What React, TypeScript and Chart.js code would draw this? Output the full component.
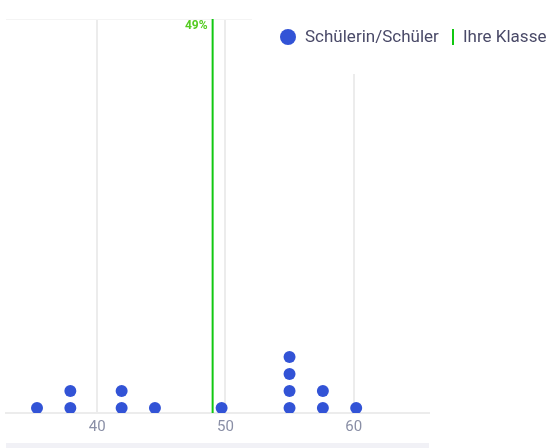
import React, { useEffect, useRef } from "react";
import { Chart, registerables } from "chart.js";

Chart.register(...registerables);

// Data
const studentScores = [35.3, 37.9, 37.9, 41.9, 41.9, 44.5, 49.7, 55.0, 55.0, 55.0, 55.0, 57.6, 57.6, 60.2];
const stackLevels = [1, 1, 2, 1, 2, 1, 1, 1, 2, 3, 4, 1, 2, 1];
const classAverage = 49;
const xTicks = [40, 50, 60];
const studentLabel = "Schülerin/Schüler";
const classLabel = "Ihre Klasse";

const X_MIN = 32.88;
const X_MAX = 65.88;
const Y_MIN = 0.7;
const Y_MAX = 23.9;

const BLUE = "#3253d6";
const GREEN = "#11c811";
const LABEL_GREEN = "#55cc22";
const TEXT = "#4a4a68";
const FONT = "Roboto, 'Noto Sans', sans-serif";

const overlayPlugin = {
  id: "overlay",
  afterDraw(chart: any) {
    const ctx = chart.ctx;
    const area = chart.chartArea;
    const xs = chart.scales.x;
    ctx.save();
    // bottom bar
    ctx.fillStyle = "#f1f1f6";
    ctx.fillRect(area.left, 443, area.right - area.left, 5);
    // average label
    const ax = xs.getPixelForValue(classAverage);
    ctx.fillStyle = LABEL_GREEN;
    ctx.font = `bold 12px ${FONT}`;
    ctx.textAlign = "right";
    ctx.textBaseline = "middle";
    ctx.fillText(`${classAverage}%`, ax - 5, 26);
    // legend box
    ctx.fillStyle = "#ffffff";
    ctx.fillRect(252, 0, chart.width - 252, 74);
    ctx.fillStyle = BLUE;
    ctx.beginPath();
    ctx.arc(288, 37, 8, 0, Math.PI * 2);
    ctx.fill();
    ctx.font = `17px ${FONT}`;
    ctx.fillStyle = TEXT;
    ctx.textAlign = "left";
    ctx.textBaseline = "middle";
    ctx.fillText(studentLabel, 305, 38);
    ctx.fillStyle = GREEN;
    ctx.fillRect(452, 29, 2, 16);
    ctx.fillStyle = TEXT;
    ctx.fillText(classLabel, 463, 38);
    ctx.restore();
  },
};

export default function App() {
  const ref = useRef<HTMLCanvasElement>(null);
  useEffect(() => {
    if (!ref.current) return;
    const chart = new Chart(ref.current, {
      type: "scatter",
      data: {
        datasets: [
          {
            label: studentLabel,
            data: studentScores.map((v, i) => ({ x: v, y: stackLevels[i] })),
            backgroundColor: BLUE,
            borderColor: BLUE,
            pointRadius: 6,
            pointHoverRadius: 6,
            borderWidth: 0,
          },
          {
            label: classLabel,
            data: [
              { x: classAverage, y: Y_MIN },
              { x: classAverage, y: Y_MAX },
            ],
            showLine: true,
            borderColor: GREEN,
            borderWidth: 2,
            pointRadius: 0,
          } as any,
        ],
      },
      options: {
        responsive: false,
        animation: false,
        layout: { padding: { top: 19, left: 6, right: 118, bottom: 5 } },
        plugins: { legend: { display: false }, tooltip: { enabled: false } },
        scales: {
          x: {
            type: "linear",
            min: X_MIN,
            max: X_MAX,
            afterBuildTicks: (s: any) => {
              s.ticks = xTicks.map((v) => ({ value: v }));
            },
            afterFit: (s: any) => {
              s.height = 30;
            },
            grid: { color: "#ececec", lineWidth: 2, drawTicks: false },
            border: { color: "#ececec", width: 2 },
            ticks: {
              color: "#8a8fa6",
              padding: 5,
              font: { family: FONT, size: 15 },
            },
          },
          y: {
            type: "linear",
            min: Y_MIN,
            max: Y_MAX,
            afterBuildTicks: (s: any) => {
              s.ticks = [{ value: Y_MAX }];
            },
            afterFit: (s: any) => {
              s.width = 0;
            },
            grid: { color: "#f4f4f4", lineWidth: 1, drawTicks: false },
            border: { display: false },
            ticks: { display: false },
          },
        },
      },
      plugins: [overlayPlugin],
    });
    return () => chart.destroy();
  }, []);
  return (
    <div style={{ position: "absolute", left: 0, top: 0, width: 547, height: 448, background: "#fff" }}>
      <canvas ref={ref} width={547} height={448} />
    </div>
  );
}
